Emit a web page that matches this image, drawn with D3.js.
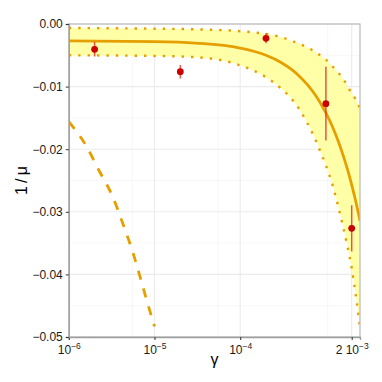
<!DOCTYPE html>
<html><head><meta charset="utf-8">
<script src="https://cdn.jsdelivr.net/npm/d3@7"></script>
<style>
html,body{margin:0;padding:0;background:#fff;}
text{font-family:"Liberation Sans",Arial,Helvetica,sans-serif;}
</style></head>
<body><svg id="chart" width="382" height="382"></svg>
<script>
// ---- data ----
const fitGamma  = [1e-6,1e-5,3e-5,1e-4,2e-4,3e-4,4e-4,5e-4,6e-4,7e-4,8e-4,9e-4,1e-3,1.2e-3,1.4e-3,1.6e-3,1.8e-3,2.0e-3,2.2e-3,2.4e-3,2.5e-3];
const fitCenter = [-0.00271,-0.00282,-0.00305,-0.00385,-0.0050,-0.00615,-0.0073,-0.00845,-0.0096,-0.01075,-0.0119,-0.01305,-0.0142,-0.0165,-0.0188,-0.0211,-0.0234,-0.0257,-0.0280,-0.0303,-0.03145];
const fitUpper  = [-0.00064,-0.00075,-0.00085,-0.00115,-0.0016,-0.0021,-0.0027,-0.0032,-0.0037,-0.0042,-0.0047,-0.0052,-0.0057,-0.0068,-0.0078,-0.0088,-0.0100,-0.0111,-0.0119,-0.0129,-0.0135];
const fitLower  = [-0.0050,-0.0051,-0.0053,-0.0066,-0.0085,-0.0103,-0.0120,-0.0138,-0.0157,-0.0175,-0.0193,-0.0210,-0.0226,-0.0258,-0.0293,-0.0326,-0.0358,-0.0390,-0.0428,-0.0465,-0.0485];

const dashGamma = [1e-6,1.57e-6,2.25e-6,3.28e-6,4.3e-6,5.57e-6,6.92e-6,7.98e-6,1e-5];
const dashValue = [-0.0156,-0.0193,-0.0234,-0.0277,-0.0320,-0.0364,-0.0408,-0.0438,-0.0483];

const ptGamma = [2e-6,2e-5,2e-4,1e-3,2e-3];
const ptValue = [-0.00404,-0.00762,-0.00229,-0.01273,-0.03264];
const ptError = [0.00117,0.00107,0.0008,0.0059,0.0037];

const xTickValues = [1e-6,1e-5,1e-4,2e-3];
const xTickPrefix = ["10","10","10","2 10"];
const xTickExp    = ["\u22126","\u22125","\u22124","\u22123"];
const xMinor      = [5.5e-6,5.5e-5,1.05e-3];
const yTickValues = [0,-0.01,-0.02,-0.03,-0.04,-0.05];
const yTickLabels = ["0.00","\u22120.01","\u22120.02","\u22120.03","\u22120.04","\u22120.05"];
const yMinor      = [-0.005,-0.015,-0.025,-0.035,-0.045];

// ---- layout ----
const L=68.8, R=360, T=24, B=337;
const orange="#E69F00", band="#FFFFA8";
const svg=d3.select("#chart");
const x=d3.scaleLog().domain([1e-6,2.5e-3]).range([L,R]);
const y=d3.scaleLinear().domain([-0.05,0]).range([B,T]);

svg.append("defs").append("clipPath").attr("id","clip")
  .append("rect").attr("x",L).attr("y",T).attr("width",R-L).attr("height",B-T);

// grid
const g=svg.append("g");
g.selectAll(".vmin").data(xMinor).join("line")
  .attr("x1",d=>x(d)).attr("x2",d=>x(d)).attr("y1",T).attr("y2",B)
  .attr("stroke","#F2F2F2").attr("stroke-width",0.6);
g.selectAll(".hmin").data(yMinor).join("line")
  .attr("y1",d=>y(d)).attr("y2",d=>y(d)).attr("x1",L).attr("x2",R)
  .attr("stroke","#F2F2F2").attr("stroke-width",0.6);
g.selectAll(".vmaj").data(xTickValues).join("line")
  .attr("x1",d=>x(d)).attr("x2",d=>x(d)).attr("y1",T).attr("y2",B)
  .attr("stroke","#EBEBEB").attr("stroke-width",1.1);
g.selectAll(".hmaj").data(yTickValues).join("line")
  .attr("y1",d=>y(d)).attr("y2",d=>y(d)).attr("x1",L).attr("x2",R)
  .attr("stroke","#EBEBEB").attr("stroke-width",1.1);

const plot=svg.append("g").attr("clip-path","url(#clip)");
const fit=fitGamma.map((gm,i)=>({g:gm,c:fitCenter[i],u:fitUpper[i],l:fitLower[i]}));
plot.append("path").datum(fit)
  .attr("d",d3.area().x(d=>x(d.g)).y0(d=>y(d.l)).y1(d=>y(d.u)).curve(d3.curveMonotoneX))
  .attr("fill",band);
const dotted={fill:"none",stroke:orange,"stroke-width":2.4,"stroke-dasharray":"2.4,7","stroke-linecap":"butt"};
for(const key of ["u","l"]){
  const p=plot.append("path").datum(fit)
    .attr("d",d3.line().x(d=>x(d.g)).y(d=>y(d[key])).curve(d3.curveMonotoneX));
  for(const k in dotted) p.attr(k,dotted[k]);
}
plot.append("path").datum(fit)
  .attr("d",d3.line().x(d=>x(d.g)).y(d=>y(d.c)).curve(d3.curveMonotoneX))
  .attr("fill","none").attr("stroke",orange).attr("stroke-width",2.8);

const dash=dashGamma.map((gm,i)=>({g:gm,v:dashValue[i]}));
plot.append("path").datum(dash)
  .attr("d",d3.line().x(d=>x(d.g)).y(d=>y(d.v)).curve(d3.curveMonotoneX))
  .attr("fill","none").attr("stroke",orange).attr("stroke-width",2.8)
  .attr("stroke-dasharray","9.2,9.2");

const pts=ptGamma.map((gm,i)=>({g:gm,v:ptValue[i],e:ptError[i]}));
plot.selectAll(".eb").data(pts).join("line")
  .attr("x1",d=>x(d.g)).attr("x2",d=>x(d.g))
  .attr("y1",d=>y(d.v-d.e)).attr("y2",d=>y(d.v+d.e))
  .attr("stroke","#E8262A").attr("stroke-opacity",0.8).attr("stroke-width",1.5);
plot.selectAll(".pt").data(pts).join("circle")
  .attr("cx",d=>x(d.g)).attr("cy",d=>y(d.v)).attr("r",3.4)
  .attr("fill","#CC0000");

// border
svg.append("rect").attr("x",L).attr("y",T).attr("width",R-L).attr("height",B-T)
  .attr("fill","none").attr("stroke","#BFBFBF").attr("stroke-width",1.3);

// axes
const ax=svg.append("g").attr("transform",`translate(0,${B})`)
  .call(d3.axisBottom(x).tickValues(xTickValues).tickSize(3).tickPadding(3).tickFormat(""));
ax.select(".domain").attr("stroke","#9E9E9E").attr("stroke-width",1.3);
ax.selectAll(".tick line").attr("stroke","#333");
ax.selectAll(".tick").each(function(d,i){
  const t=d3.select(this).append("text").attr("y",17).attr("fill","#1a1a1a")
    .attr("font-size",12).attr("text-anchor","middle");
  t.append("tspan").text(xTickPrefix[i]);
  t.append("tspan").attr("dy",-5).attr("font-size",8.5).text(xTickExp[i]);
});
ax.selectAll(".tick text").filter(function(){return !this.childNodes.length;}).remove();

const ay=svg.append("g").attr("transform",`translate(${L},0)`)
  .call(d3.axisLeft(y).tickValues(yTickValues).tickSize(3).tickPadding(3)
    .tickFormat((d,i)=>yTickLabels[i]));
ay.select(".domain").attr("stroke","#9E9E9E").attr("stroke-width",1.3);
ay.selectAll(".tick line").attr("stroke","#333");
ay.selectAll(".tick text").attr("font-size",12).attr("fill","#1a1a1a")
  .attr("font-family","Liberation Sans,Arial,sans-serif");

svg.append("text").attr("x",(L+R)/2).attr("y",365).attr("text-anchor","middle")
  .attr("font-size",16).attr("fill","#000").text("\u03b3");
svg.append("text").attr("transform",`translate(27,${(T+B)/2}) rotate(-90)`)
  .attr("text-anchor","middle").attr("font-size",16).attr("fill","#000")
  .text("1\u2009/\u2009\u03bc");
</script></body></html>
